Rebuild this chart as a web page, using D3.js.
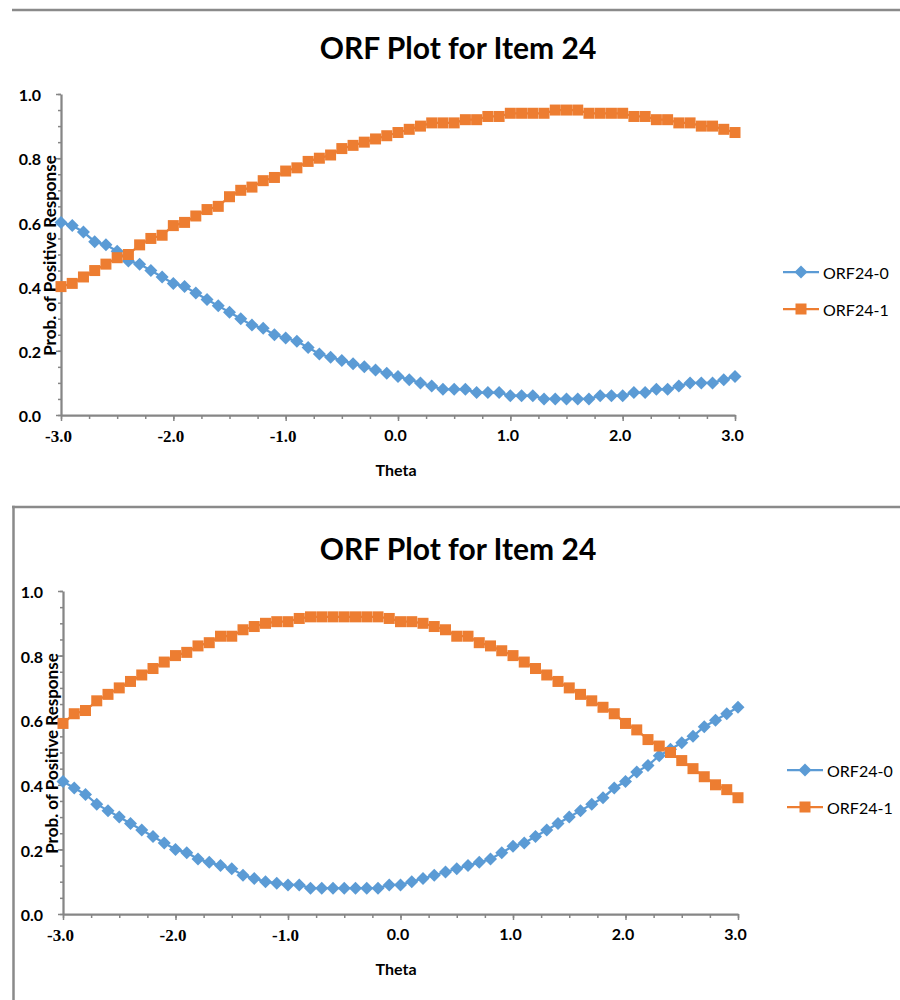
<!DOCTYPE html>
<html>
<head>
<meta charset="utf-8">
<script src="https://cdn.jsdelivr.net/npm/d3@7"></script>
<style>
  body { margin: 0; background: #fff; }
  svg { display: block; }
</style>
</head>
<body>
<svg id="chart" width="900" height="1000"></svg>
<script>
// Ability levels (theta) at which the option response functions are evaluated
const theta = [
  -3.0, -2.9, -2.8, -2.7, -2.6, -2.5, -2.4, -2.3, -2.2, -2.1,
  -2.0, -1.9, -1.8, -1.7, -1.6, -1.5, -1.4, -1.3, -1.2, -1.1,
  -1.0, -0.9, -0.8, -0.7, -0.6, -0.5, -0.4, -0.3, -0.2, -0.1,
   0.0,  0.1,  0.2,  0.3,  0.4,  0.5,  0.6,  0.7,  0.8,  0.9,
   1.0,  1.1,  1.2,  1.3,  1.4,  1.5,  1.6,  1.7,  1.8,  1.9,
   2.0,  2.1,  2.2,  2.3,  2.4,  2.5,  2.6,  2.7,  2.8,  2.9,
   3.0
];

// First plot: response probabilities for options 0 and 1
const plotA_orf0 = [
  0.60, 0.59, 0.57, 0.54, 0.53, 0.51, 0.48, 0.47, 0.45, 0.43,
  0.41, 0.40, 0.38, 0.36, 0.34, 0.32, 0.30, 0.28, 0.27, 0.25,
  0.24, 0.23, 0.21, 0.19, 0.18, 0.17, 0.16, 0.15, 0.14, 0.13,
  0.12, 0.11, 0.10, 0.09, 0.08, 0.08, 0.08, 0.07, 0.07, 0.07,
  0.06, 0.06, 0.06, 0.05, 0.05, 0.05, 0.05, 0.05, 0.06, 0.06,
  0.06, 0.07, 0.07, 0.08, 0.08, 0.09, 0.10, 0.10, 0.10, 0.11,
  0.12
];
const plotA_orf1 = [
  0.40, 0.41, 0.43, 0.45, 0.47, 0.49, 0.50, 0.53, 0.55, 0.56,
  0.59, 0.60, 0.62, 0.64, 0.65, 0.68, 0.70, 0.71, 0.73, 0.74,
  0.76, 0.77, 0.79, 0.80, 0.81, 0.83, 0.84, 0.85, 0.86, 0.87,
  0.88, 0.89, 0.90, 0.91, 0.91, 0.91, 0.92, 0.92, 0.93, 0.93,
  0.94, 0.94, 0.94, 0.94, 0.95, 0.95, 0.95, 0.94, 0.94, 0.94,
  0.94, 0.93, 0.93, 0.92, 0.92, 0.91, 0.91, 0.90, 0.90, 0.89,
  0.88
];

// Second plot: response probabilities for options 0 and 1
const plotB_orf0 = [
  0.41, 0.39, 0.37, 0.34, 0.32, 0.30, 0.28, 0.26, 0.24, 0.22,
  0.20, 0.19, 0.17, 0.16, 0.15, 0.14, 0.12, 0.11, 0.10, 0.095,
  0.09, 0.09, 0.08, 0.08, 0.08, 0.08, 0.08, 0.08, 0.08, 0.09,
  0.09, 0.10, 0.11, 0.12, 0.13, 0.14, 0.15, 0.16, 0.17, 0.19,
  0.21, 0.22, 0.24, 0.26, 0.28, 0.30, 0.32, 0.34, 0.36, 0.39,
  0.41, 0.44, 0.46, 0.49, 0.51, 0.53, 0.55, 0.58, 0.60, 0.62,
  0.64
];
const plotB_orf1 = [
  0.59, 0.62, 0.63, 0.66, 0.68, 0.70, 0.72, 0.74, 0.76, 0.78,
  0.80, 0.81, 0.83, 0.84, 0.86, 0.86, 0.88, 0.89, 0.90, 0.905,
  0.905, 0.915, 0.92, 0.92, 0.92, 0.92, 0.92, 0.92, 0.92, 0.915,
  0.905, 0.905, 0.90, 0.89, 0.88, 0.86, 0.86, 0.84, 0.83, 0.815,
  0.80, 0.78, 0.76, 0.74, 0.72, 0.70, 0.68, 0.66, 0.64, 0.62,
  0.59, 0.57, 0.54, 0.52, 0.50, 0.475, 0.45, 0.425, 0.40, 0.385,
  0.36
];

const seriesNames = ["ORF24-0", "ORF24-1"];
const chartTitle = "ORF Plot for Item 24";
const xTicks = [-3, -2, -1, 0, 1, 2, 3];
const yTicks = [0, 0.2, 0.4, 0.6, 0.8, 1.0];
const xMinorTicks = d3.range(-3, 3.001, 0.25);
const yMinorTicks = d3.range(0, 1.001, 0.05);

const COLORS = ["#5B9BD5", "#ED7D31"];
const AXIS_COLOR = "#868686";
const SANS = "Lato, 'Open Sans', sans-serif";
const SERIF = "'Liberation Serif', 'DejaVu Serif', serif";
// one decimal, plain hyphen for negatives
const fmt = d3.formatLocale({ decimal: ".", thousands: ",", grouping: [3],
  currency: ["", ""], minus: "-" }).format(".1f");

const svg = d3.select("#chart");

// Layout for each of the two stacked plots
const panels = [
  { top: 10, left: false, titleY: 47, x0: 61, x1: 735, yTop: 94, yBot: 415,
    thetaY: 469, yTitleX: 49, legendX: 783, legendY: 272,
    series: [plotA_orf0, plotA_orf1] },
  { top: 507, left: true, titleY: 548, x0: 63, x1: 738, yTop: 591, yBot: 914,
    thetaY: 968, yTitleX: 51, legendX: 787, legendY: 770,
    series: [plotB_orf0, plotB_orf1] }
];

function marker(sel, i) {
  if (i === 0) {
    sel.append("path").attr("d", "M0,-6.5L6.5,0L0,6.5L-6.5,0Z").attr("fill", COLORS[0]);
  } else {
    sel.append("rect").attr("x", -5.5).attr("y", -5.5).attr("width", 11).attr("height", 11)
      .attr("fill", COLORS[1]);
  }
}

panels.forEach(p => {
  const g = svg.append("g");

  // frame of the chart area
  g.append("line").attr("x1", 12).attr("x2", 900).attr("y1", p.top).attr("y2", p.top)
    .attr("stroke", "#8a8a8a").attr("stroke-width", 2.5);
  if (p.left) {
    g.append("line").attr("x1", 13.5).attr("x2", 13.5).attr("y1", p.top - 1.2).attr("y2", 1000)
      .attr("stroke", "#8a8a8a").attr("stroke-width", 2.5);
  }

  const x = d3.scaleLinear().domain([-3, 3]).range([p.x0, p.x1]);
  const y = d3.scaleLinear().domain([0, 1]).range([p.yBot, p.yTop]);

  // title
  g.append("text").attr("x", 458).attr("y", p.titleY).attr("text-anchor", "middle")
    .attr("dominant-baseline", "central")
    .style("font-family", SANS).style("font-weight", 700).style("font-size", "30px")
    .attr("fill", "#000").text(chartTitle);

  // minor ticks
  g.append("g").attr("transform", `translate(${p.x0},0)`)
    .call(d3.axisLeft(y).tickValues(yMinorTicks).tickSize(3).tickFormat(""))
    .call(a => a.select(".domain").remove())
    .call(a => a.selectAll("line").attr("stroke", AXIS_COLOR).attr("stroke-width", 1.5));
  g.append("g").attr("transform", `translate(0,${p.yBot})`)
    .call(d3.axisBottom(x).tickValues(xMinorTicks).tickSize(4).tickFormat(""))
    .call(a => a.select(".domain").remove())
    .call(a => a.selectAll("line").attr("stroke", AXIS_COLOR).attr("stroke-width", 1.5));

  // major axes
  const yAxis = g.append("g").attr("transform", `translate(${p.x0},0)`)
    .call(d3.axisLeft(y).tickValues(yTicks).tickSize(5).tickSizeOuter(0)
      .tickPadding(15).tickFormat(fmt));
  yAxis.select(".domain").attr("stroke", AXIS_COLOR).attr("stroke-width", 2.25);
  yAxis.selectAll(".tick line").attr("stroke", AXIS_COLOR).attr("stroke-width", 1.5);
  yAxis.selectAll(".tick text").attr("dy", "0.42em")
    .style("font-family", SANS).style("font-weight", 700).style("font-size", "16px")
    .attr("fill", "#000");

  const xAxis = g.append("g").attr("transform", `translate(0,${p.yBot})`)
    .call(d3.axisBottom(x).tickValues(xTicks).tickSize(6).tickSizeOuter(0)
      .tickPadding(9).tickFormat(fmt));
  xAxis.select(".domain").attr("stroke", AXIS_COLOR).attr("stroke-width", 2.25);
  xAxis.selectAll(".tick line").attr("stroke", AXIS_COLOR).attr("stroke-width", 1.5);
  xAxis.selectAll(".tick text").attr("dx", -3)
    .style("font-family", d => d < 0 ? SERIF : SANS).style("font-weight", 700)
    .style("font-size", d => d < 0 ? "17px" : "16px").attr("fill", "#000");

  // axis titles
  g.append("text").attr("x", 396).attr("y", p.thetaY).attr("text-anchor", "middle")
    .attr("dominant-baseline", "central")
    .style("font-family", SANS).style("font-weight", 700).style("font-size", "16px")
    .text("Theta");
  g.append("text")
    .attr("transform", `translate(${p.yTitleX},${(p.yTop + p.yBot) / 2 + 1}) rotate(-90)`)
    .attr("text-anchor", "middle").attr("dominant-baseline", "central")
    .style("font-family", SANS).style("font-weight", 700).style("font-size", "17px")
    .text("Prob. of Positive Response");

  // series
  p.series.forEach((vals, i) => {
    const pts = theta.map((t, k) => [t, vals[k]]);
    g.append("path").datum(pts)
      .attr("fill", "none").attr("stroke", COLORS[i]).attr("stroke-width", 2.25)
      .attr("d", d3.line().x(d => x(d[0])).y(d => y(d[1])));
    g.append("g").selectAll("g").data(pts).join("g")
      .attr("transform", d => `translate(${x(d[0])},${y(d[1])})`)
      .each(function () { marker(d3.select(this), i); });
  });

  // legend
  seriesNames.forEach((name, i) => {
    const ly = p.legendY + i * 37;
    const lg = g.append("g");
    lg.append("line").attr("x1", p.legendX).attr("x2", p.legendX + 36)
      .attr("y1", ly).attr("y2", ly).attr("stroke", COLORS[i]).attr("stroke-width", 2.25);
    lg.append("g").attr("transform", `translate(${p.legendX + 18},${ly})`)
      .each(function () { marker(d3.select(this), i); });
    lg.append("text").attr("x", p.legendX + 40).attr("y", ly)
      .attr("dominant-baseline", "central")
      .style("font-family", SANS).style("font-size", "16px").attr("fill", "#000")
      .text(name);
  });
});
</script>
</body>
</html>
